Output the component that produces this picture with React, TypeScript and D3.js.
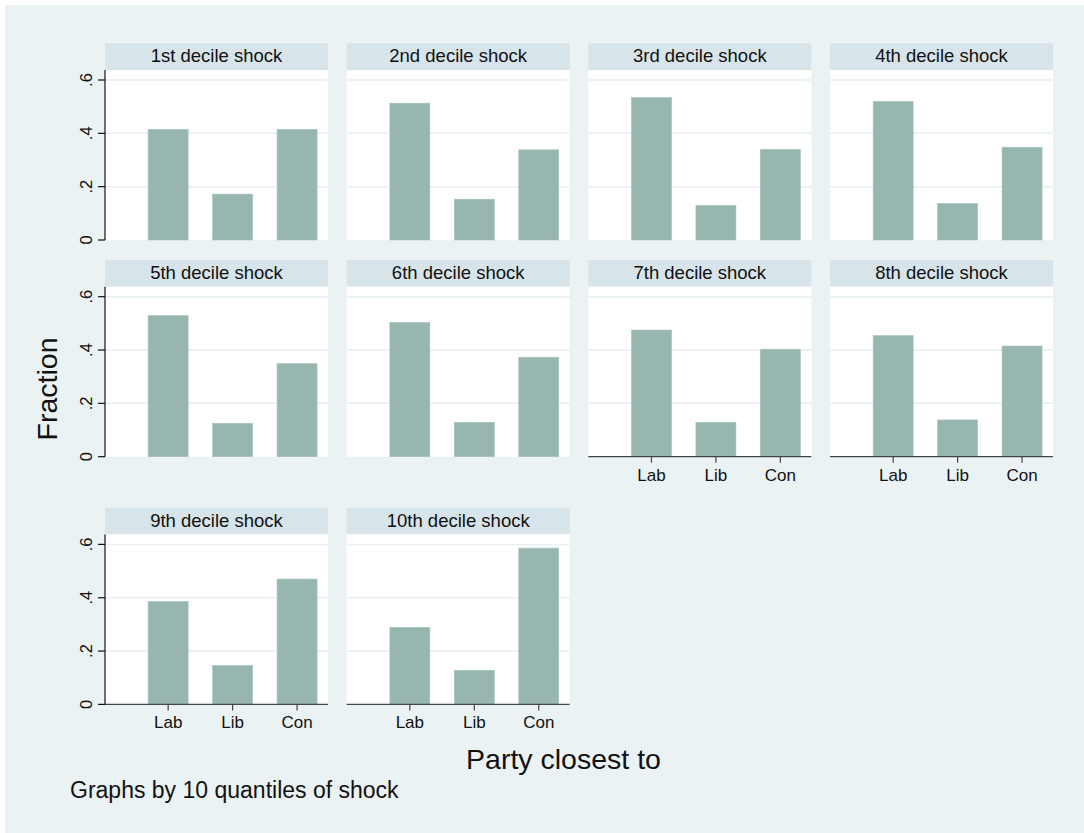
import React, { useEffect, useRef } from 'react';
import * as d3 from 'd3';

// values (fraction per party, by decile of shock)
const panelTitles = [
  '1st decile shock', '2nd decile shock', '3rd decile shock', '4th decile shock',
  '5th decile shock', '6th decile shock', '7th decile shock', '8th decile shock',
  '9th decile shock', '10th decile shock'
];
const parties = ['Lab', 'Lib', 'Con'];
const labShare = [0.415, 0.513, 0.534, 0.520, 0.529, 0.503, 0.475, 0.454, 0.386, 0.289];
const libShare = [0.172, 0.153, 0.130, 0.137, 0.125, 0.129, 0.129, 0.138, 0.146, 0.128];
const conShare = [0.415, 0.338, 0.340, 0.348, 0.349, 0.373, 0.403, 0.415, 0.470, 0.586];
const yTicks = [0, 0.2, 0.4, 0.6];
const yTickLabels = ['0', '.2', '.4', '.6'];

const W = 1084;
const H = 833;
const FONT = '"Liberation Sans", Arial, Helvetica, sans-serif';

const App = () => {
  const ref = useRef<SVGSVGElement>(null);

  useEffect(() => {
    const svg = d3.select(ref.current);
    svg.selectAll('*').remove();

    svg.append('rect')
      .attr('x', 5).attr('y', 5)
      .attr('width', W - 5).attr('height', H - 5)
      .attr('fill', '#eaf2f3');

    const colLeft = [105, 346.7, 588.3, 830];
    const rowTop = [43.3, 260, 507.7];
    const panelW = 223;
    const headH = 26.7;
    const plotH = 170;

    const x = d3.scaleLinear().domain([0.02, 3.48]).range([0, panelW]);
    const y = d3.scaleLinear().domain([0, 0.6375]).range([plotH, 0]);
    const barW = x(0.62) - x(0);

    panelTitles.forEach((title, i) => {
      const col = i % 4;
      const row = Math.floor(i / 4);
      const left = colLeft[col];
      const top = rowTop[row];
      const vals = [labShare[i], libShare[i], conShare[i]];
      const hasXAxis = i >= 6;
      const hasYAxis = col === 0;

      const g = svg.append('g')
        .attr('transform', `translate(${left}, ${top})`);

      // strip
      g.append('rect')
        .attr('width', panelW).attr('height', headH)
        .attr('fill', '#d7e4ea');
      g.append('text')
        .attr('x', panelW / 2).attr('y', 19)
        .attr('text-anchor', 'middle')
        .style('font-family', FONT).style('font-size', '18.5px')
        .attr('fill', '#111')
        .text(title);

      const p = g.append('g')
        .attr('transform', `translate(0, ${headH})`);

      p.append('rect')
        .attr('width', panelW).attr('height', plotH)
        .attr('fill', '#ffffff');

      p.selectAll('.grid')
        .data(yTicks.slice(1))
        .enter().append('line')
        .attr('x1', 0).attr('x2', panelW)
        .attr('y1', (d) => y(d)).attr('y2', (d) => y(d))
        .attr('stroke', '#e6eff1')
        .attr('stroke-width', 1.5);

      p.selectAll('.bar')
        .data(vals)
        .enter().append('rect')
        .attr('x', (d, j) => x(j + 1) - barW / 2)
        .attr('width', barW)
        .attr('y', (d) => y(d))
        .attr('height', (d) => plotH - y(d))
        .attr('fill', '#98b6b0')
        .attr('stroke', '#a3bfb9')
        .attr('stroke-width', 0.6);

      if (hasYAxis) {
        p.append('line')
          .attr('x1', 0).attr('x2', 0)
          .attr('y1', 0).attr('y2', plotH)
          .attr('stroke', '#111').attr('stroke-width', 1.2);
        yTicks.forEach((t, k) => {
          p.append('line')
            .attr('x1', -7).attr('x2', 0)
            .attr('y1', y(t)).attr('y2', y(t))
            .attr('stroke', '#111').attr('stroke-width', 1.2);
          p.append('text')
            .attr('transform', `translate(-13.5, ${y(t)}) rotate(-90)`)
            .attr('text-anchor', 'middle')
            .style('font-family', FONT).style('font-size', '16.5px')
            .attr('fill', '#111')
            .text(yTickLabels[k]);
        });
      }

      if (hasXAxis) {
        p.append('line')
          .attr('x1', 0).attr('x2', panelW)
          .attr('y1', plotH).attr('y2', plotH)
          .attr('stroke', '#444').attr('stroke-width', 1.2);
        parties.forEach((name, j) => {
          p.append('line')
            .attr('x1', x(j + 1)).attr('x2', x(j + 1))
            .attr('y1', plotH).attr('y2', plotH + 6)
            .attr('stroke', '#444').attr('stroke-width', 1.2);
          p.append('text')
            .attr('x', x(j + 1)).attr('y', plotH + 24)
            .attr('text-anchor', 'middle')
            .style('font-family', FONT).style('font-size', '17px')
            .attr('fill', '#111')
            .text(name);
        });
      }
    });

    svg.append('text')
      .attr('transform', 'translate(57, 389) rotate(-90)')
      .attr('text-anchor', 'middle')
      .style('font-family', FONT).style('font-size', '28.5px')
      .attr('fill', '#111')
      .text('Fraction');

    svg.append('text')
      .attr('x', 563.5).attr('y', 769)
      .attr('text-anchor', 'middle')
      .style('font-family', FONT).style('font-size', '28.5px')
      .attr('fill', '#111')
      .text('Party closest to');

    svg.append('text')
      .attr('x', 70).attr('y', 797.5)
      .style('font-family', FONT).style('font-size', '23px')
      .attr('fill', '#111')
      .text('Graphs by 10 quantiles of shock');
  }, []);

  return (
    <svg ref={ref} width={W} height={H}
      style={{ position: 'absolute', left: 0, top: 0, background: '#ffffff' }} />
  );
};

export default App;
